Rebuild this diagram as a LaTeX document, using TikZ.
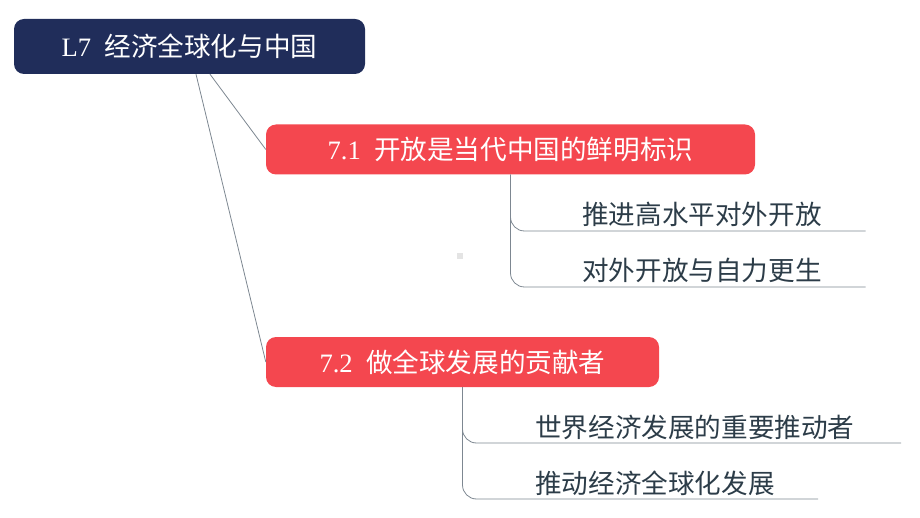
\documentclass[tikz,border=0pt]{standalone}
\usepackage{fontspec}
\setmainfont{Liberation Serif}
\newfontfamily\cjk{Noto Sans CJK SC}
\usetikzlibrary{calc, positioning}
\definecolor{navybox}{RGB}{32,45,90}
\definecolor{redbox}{RGB}{244,71,79}
\definecolor{linkgray}{RGB}{125,135,145}
\definecolor{leaftext}{RGB}{44,60,72}
\definecolor{specgray}{RGB}{228,228,228}
\newcommand{\bigfont}{\fontsize{26.6}{30}\selectfont}

\begin{document}
\begin{tikzpicture}[x=1pt, y=-1pt,
    rootbox/.style={fill=navybox, text=white, rounded corners=10pt, minimum width=351pt, minimum height=55pt, font=\bigfont},
    secbox/.style={fill=redbox, text=white, rounded corners=10pt, minimum height=50pt, font=\bigfont},
    leaf/.style={anchor=base west, inner sep=0pt, text=leaftext, font=\bigfont\cjk},
    link/.style={draw=linkgray, line width=0.8pt}]
    \useasboundingbox (0,0) rectangle (920,518);

    %la racine
    \node [rootbox] (root) at (189.5,46.5) {L7\enspace{\cjk 经济全球化与中国}};

    %les deux sections
    \node [secbox, minimum width=489pt] (s1) at (510.5,149.5) {7.1\enspace{\cjk 开放是当代中国的鲜明标识}};
    \node [secbox, minimum width=393pt] (s2) at (462.5,362) {7.2\enspace{\cjk 做全球发展的贡献者}};

    %traits racine -> sections
    \draw [link] ($(root.south)+(20.5,0)$) -- (s1.west);
    \draw [link] ($(root.south)+(6.5,0)$) -- (s2.west);

    %feuilles de 7.1
    \node [leaf] (a1) at (582,225) {推进高水平对外开放};
    \node [leaf] (a2) at (582,281) {对外开放与自力更生};
    \coordinate (e1) at (865.5,231);
    \coordinate (e2) at (865.5,287);
    \draw [link, rounded corners=14pt] (s1.south) |- (e1);
    \draw [link, rounded corners=14pt] (s1.south) |- (e2);

    %feuilles de 7.2
    \node [leaf] (b1) at (535,437) {世界经济发展的重要推动者};
    \node [leaf] (b2) at (535,493) {推动经济全球化发展};
    \coordinate (f1) at (901,443);
    \coordinate (f2) at (818,499);
    \draw [link, rounded corners=14pt] (s2.south) |- (f1);
    \draw [link, rounded corners=14pt] (s2.south) |- (f2);

    %petit carré gris
    \fill [specgray] (457,253) rectangle (463,259);
\end{tikzpicture}
\end{document}
